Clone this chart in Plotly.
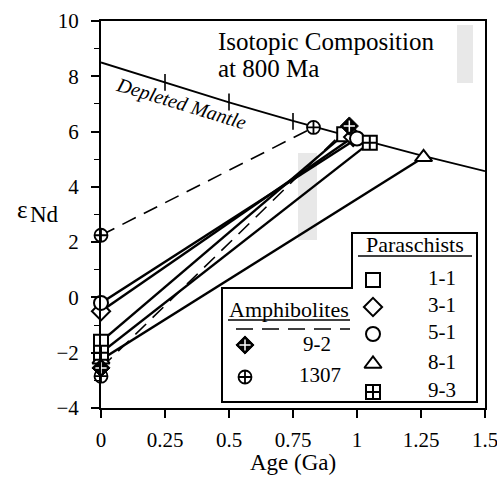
import plotly.graph_objects as go

# ---------------- data ----------------
dm_age = [0, 0.25, 0.5, 0.75, 1.0, 1.25, 1.5]
dm_eps = [8.5, 7.77, 7.06, 6.39, 5.75, 5.14, 4.57]
dm_tick_age = [0.25, 0.5, 0.75]
dm_tick_eps = [7.78, 7.07, 6.37]

para_names = ["1-1", "3-1", "5-1", "8-1", "9-3"]
para_eps0 = [-1.6, -0.5, -0.2, -2.25, -2.0]
para_tdm = [0.95, 0.985, 1.0, 1.26, 1.05]
para_epsdm = [5.9, 5.8, 5.75, 5.07, 5.6]
para_symbols = ["square", "diamond", "circle", "triangle-up", "square-cross"]

amph_names = ["9-2", "1307"]
amph_eps0 = [-2.55, 2.25]
amph_tdm = [0.97, 0.83]
amph_epsdm = [6.2, 6.15]
extra_1307_eps0 = [-2.85]

x_ticks = [0, 0.25, 0.5, 0.75, 1.0, 1.25, 1.5]
x_ticktext = ["0", "0.25", "0.5", "0.75", "1", "1.25", "1.5"]
y_ticks = [-4, -2, 0, 2, 4, 6, 8, 10]

FONT = "Liberation Serif"

# plot area in page pixels: x 101..485, y 21..408
def PX(px):
    return (px - 101) / 384.0

def PY(py):
    return (408 - py) / 387.0

fig = go.Figure()

# Depleted mantle curve
fig.add_trace(go.Scatter(x=dm_age, y=dm_eps, mode="lines",
                         line=dict(color="black", width=1.8), hoverinfo="skip"))
fig.add_trace(go.Scatter(x=dm_tick_age, y=dm_tick_eps, mode="markers",
                         marker=dict(symbol="line-ns-open", size=12, color="black",
                                     line=dict(color="black", width=1.6)),
                         hoverinfo="skip"))

# model lines
for e0, t, e in zip(para_eps0, para_tdm, para_epsdm):
    fig.add_trace(go.Scatter(x=[0, t], y=[e0, e], mode="lines",
                             line=dict(color="black", width=2.4), hoverinfo="skip"))
for e0, t, e in zip(amph_eps0, amph_tdm, amph_epsdm):
    fig.add_trace(go.Scatter(x=[0, t], y=[e0, e], mode="lines",
                             line=dict(color="black", width=1.6, dash="15px,9px"),
                             hoverinfo="skip"))

# markers
def para_marker(sym):
    return dict(symbol=sym, size=14 if sym != "triangle-up" else 15, color="white",
                line=dict(color="black", width=2))

for e0, t, e, sym in zip(para_eps0, para_tdm, para_epsdm, para_symbols):
    fig.add_trace(go.Scatter(x=[0, t], y=[e0, e], mode="markers",
                             marker=para_marker(sym), cliponaxis=False, hoverinfo="skip"))

CC = dict(symbol="circle-cross", size=13, color="white", line=dict(color="black", width=1.8))
DIA = dict(symbol="diamond", size=14, color="black", line=dict(color="black", width=1))
CRS = dict(symbol="cross-thin-open", size=8, color="white", line=dict(color="white", width=1.5))

# 1307 (circle-cross)
fig.add_trace(go.Scatter(x=[0, amph_tdm[1], 0],
                         y=[amph_eps0[1], amph_epsdm[1], extra_1307_eps0[0]],
                         mode="markers", marker=CC, cliponaxis=False, hoverinfo="skip"))
# 9-2 (filled diamond with white cross)
fig.add_trace(go.Scatter(x=[0, amph_tdm[0]], y=[amph_eps0[0], amph_epsdm[0]],
                         mode="markers", marker=DIA, cliponaxis=False, hoverinfo="skip"))
fig.add_trace(go.Scatter(x=[0, amph_tdm[0]], y=[amph_eps0[0], amph_epsdm[0]],
                         mode="markers", marker=CRS, cliponaxis=False, hoverinfo="skip"))

# ---------------- legend keys (overlay axes in paper units) ----------------
leg_para_y = [280, 307, 334, 364, 392]
for py, sym in zip(leg_para_y, para_symbols):
    fig.add_trace(go.Scatter(x=[PX(373)], y=[PY(py)], xaxis="x2", yaxis="y2",
                             mode="markers", marker=para_marker(sym),
                             cliponaxis=False, hoverinfo="skip"))
fig.add_trace(go.Scatter(x=[PX(245)], y=[PY(345)], xaxis="x2", yaxis="y2",
                         mode="markers", marker=DIA, cliponaxis=False, hoverinfo="skip"))
fig.add_trace(go.Scatter(x=[PX(245)], y=[PY(345)], xaxis="x2", yaxis="y2",
                         mode="markers", marker=CRS, cliponaxis=False, hoverinfo="skip"))
fig.add_trace(go.Scatter(x=[PX(245)], y=[PY(377)], xaxis="x2", yaxis="y2",
                         mode="markers", marker=CC, cliponaxis=False, hoverinfo="skip"))
fig.add_trace(go.Scatter(x=[PX(236), PX(350)], y=[PY(329), PY(329)], xaxis="x2", yaxis="y2",
                         mode="lines", line=dict(color="black", width=1.6, dash="17px,9px"),
                         cliponaxis=False, hoverinfo="skip"))

shapes = []
# stippled grey scan artefacts
for (x0, y0, x1, y1) in [(298, 153, 317, 240), (457, 25, 473, 83)]:
    shapes.append(dict(type="rect", xref="paper", yref="paper",
                       x0=PX(x0), x1=PX(x1), y0=PY(y0), y1=PY(y1),
                       fillcolor="rgba(150,150,150,0.22)", line=dict(width=0), layer="below"))
# L-shaped legend box
path = "M {a},{b} L {c},{b} L {c},{d} L {e},{d} L {e},{f} L {a},{f} Z".format(
    a=PX(222), b=PY(288), c=PX(352), d=PY(233), e=PX(477), f=PY(402))
shapes.append(dict(type="path", xref="paper", yref="paper", path=path,
                   line=dict(color="black", width=2), layer="above"))
# underlines
shapes.append(dict(type="line", xref="paper", yref="paper", x0=PX(228), x1=PX(350),
                   y0=PY(320), y1=PY(320), line=dict(color="black", width=1.5)))
shapes.append(dict(type="line", xref="paper", yref="paper", x0=PX(358), x1=PX(472),
                   y0=PY(256), y1=PY(256), line=dict(color="black", width=1.5)))

ann = []
def A(text, px, py, size, xanchor="center", angle=0, italic=False):
    if italic:
        text = "<i>" + text + "</i>"
    ann.append(dict(text=text, x=PX(px), y=PY(py), xref="paper", yref="paper",
                    showarrow=False, xanchor=xanchor, yanchor="middle",
                    textangle=angle, font=dict(family=FONT, size=size, color="black")))

A("Isotopic Composition", 216, 41, 25, xanchor="left")
A("at 800 Ma", 216, 68, 25, xanchor="left")
A("Depleted Mantle", 181, 103, 20, angle=17, italic=True)
A("ε", 22, 209, 25)
A("Nd", 44, 215, 23)
A("Age (Ga)", 293, 462, 23)
A("Amphibolites", 289, 309, 22)
A("Paraschists", 415, 244, 22)
A("9-2", 317, 344, 21)
A("1307", 320, 375, 21)
for py, name in zip(leg_para_y, para_names):
    A(name, 458, py - 2, 21, xanchor="right")

W, H = 497, 479
fig.update_layout(
    width=W, height=H,
    margin=dict(l=101, r=W - 485, t=21, b=H - 408, autoexpand=False),
    plot_bgcolor="white", paper_bgcolor="white",
    showlegend=False,
    font=dict(family=FONT, color="black"),
    xaxis=dict(range=[0, 1.5], tickvals=x_ticks, ticktext=x_ticktext, automargin=False,
               ticks="outside", ticklen=8, tickwidth=1.5, tickcolor="black",
               showline=True, linewidth=2, linecolor="black", mirror=True,
               showgrid=False, zeroline=False, ticklabelstandoff=4,
               ticklabeloverflow="allow",
               tickfont=dict(family=FONT, size=21, color="black")),
    yaxis=dict(range=[-4, 10], tickvals=y_ticks, automargin=False,
               ticks="outside", ticklen=8, tickwidth=1.5, tickcolor="black",
               minor=dict(dtick=1, ticks="outside", ticklen=5, tickwidth=1.2, tickcolor="black"),
               showline=True, linewidth=2, linecolor="black", mirror=True,
               showgrid=False, zeroline=False, ticklabelstandoff=8,
               ticklabeloverflow="allow",
               tickfont=dict(family=FONT, size=21, color="black")),
    xaxis2=dict(overlaying="x", range=[0, 1], visible=False, anchor="y2"),
    yaxis2=dict(overlaying="y", range=[0, 1], visible=False, anchor="x2"),
    shapes=shapes,
    annotations=ann,
)

fig.write_html("out.html", config={"displayModeBar": False},
               post_script="document.body.style.margin='0px';document.body.style.overflow='hidden';")
